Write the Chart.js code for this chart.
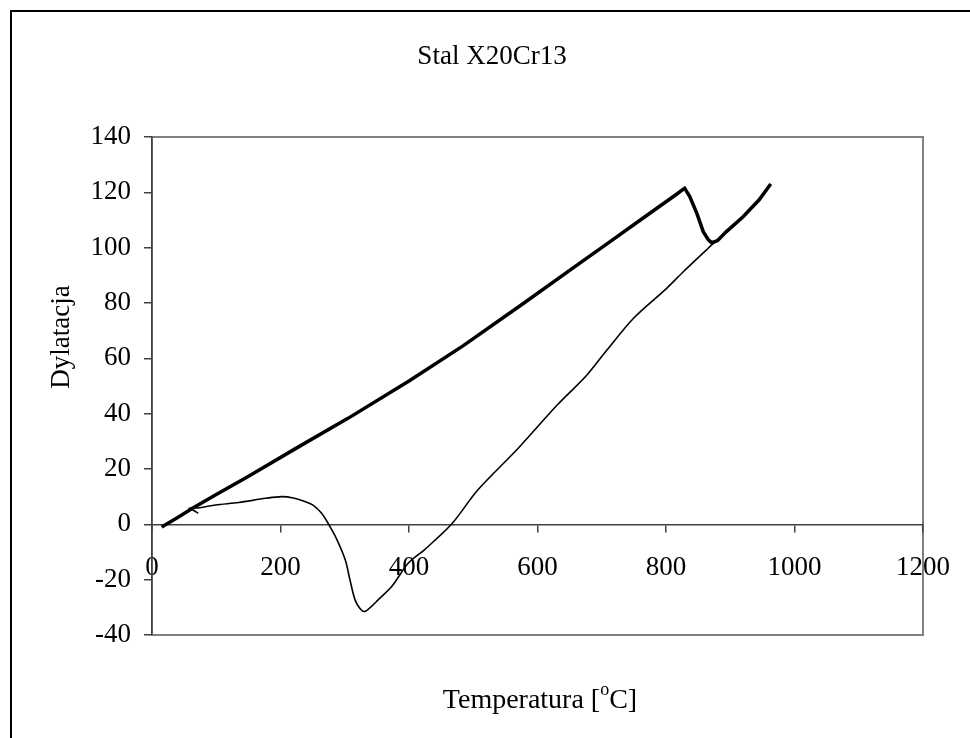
<!DOCTYPE html>
<html lang="pl">
  <head>
    <meta charset="UTF-8" />
    <title>Stal X20Cr13</title>
    <script src="https://cdn.jsdelivr.net/npm/chart.js"></script>
    <style>
      html, body { margin: 0; padding: 0; background: #fff; overflow: hidden; }
      #wrap { position: relative; width: 970px; height: 738px; }
    </style>
  </head>
  <body>
    <div id="wrap">
      <canvas id="chart" width="970" height="738"></canvas>
    </div>

    <script>
      // dane
      const chartTitle = "Stal X20Cr13";
      const xTitle = "Temperatura [";
      const yTitle = "Dylatacja";
      const xTicks = [0, 200, 400, 600, 800, 1000, 1200];
      const yTicks = [-40, -20, 0, 20, 40, 60, 80, 100, 120, 140];

      // nagrzewanie
      const heatT = [15, 40, 63, 100, 151, 228, 305, 400, 484, 579, 662, 713, 765, 817, 829, 837, 848, 858, 866, 871, 880, 894, 920, 945, 963];
      const heatD = [-1, 2.5, 5.8, 10.8, 17.5, 28, 38.3, 51.8, 64.5, 80, 93.8, 102.2, 110.8, 119.4, 121.5, 118.5, 112.4, 105.8, 102.8, 101.8, 102.5, 105.8, 111.2, 117.3, 123];

      // chłodzenie
      const coolT = [963, 945, 920, 894, 871, 863, 827, 801, 749.5, 708, 677, 631, 570, 507, 466, 424, 399, 373, 352, 340, 331, 324, 316, 308, 301, 288, 277, 264, 250, 239, 220, 202, 177, 135, 99, 74, 58, 65, 72];
      const coolD = [123, 117.3, 111, 105.5, 101, 99.2, 91.3, 85.3, 74.5, 63, 54, 43.2, 27.5, 12.4, 0, -9.2, -14, -22.5, -27.3, -30, -31.5, -30.5, -27.3, -20, -13, -5.6, -0.8, 4, 7, 8.2, 9.5, 10, 9.4, 7.9, 7, 6, 5.8, 5, 4];

      const toPoints = (xs, ys) => xs.map((x, i) => ({ x: x, y: ys[i] }));

      const FONT = "'Liberation Serif', 'Times New Roman', serif";

      // ramka, obramowanie obszaru wykresu i tytuły
      const decor = {
        id: "decor",
        beforeDraw(chart) {
          const ctx = chart.ctx;
          const a = chart.chartArea;
          ctx.save();
          ctx.fillStyle = "#fff";
          ctx.fillRect(0, 0, chart.width, chart.height);
          ctx.strokeStyle = "#000";
          ctx.lineWidth = 2;
          ctx.strokeRect(11, 11, 1100, 1100);
          ctx.strokeStyle = "#808080";
          ctx.lineWidth = 2;
          ctx.strokeRect(a.left, a.top, a.right - a.left, a.bottom - a.top);
          ctx.restore();
        },
        afterDraw(chart) {
          const ctx = chart.ctx;
          ctx.save();
          ctx.fillStyle = "#000";
          ctx.textBaseline = "middle";
          ctx.textAlign = "center";
          ctx.font = "27px " + FONT;
          ctx.fillText(chartTitle, 492, 57);

          // tytuł osi X z indeksem górnym
          ctx.font = "28px " + FONT;
          const w1 = ctx.measureText(xTitle).width;
          const w3 = ctx.measureText("C]").width;
          ctx.font = "18px " + FONT;
          const w2 = ctx.measureText("o").width;
          let x = 540 - (w1 + w2 + w3) / 2;
          ctx.textAlign = "left";
          ctx.font = "28px " + FONT;
          ctx.fillText(xTitle, x, 701);
          ctx.font = "18px " + FONT;
          ctx.fillText("o", x + w1, 690);
          ctx.font = "28px " + FONT;
          ctx.fillText("C]", x + w1 + w2, 701);

          // tytuł osi Y
          ctx.translate(62, 337);
          ctx.rotate(-Math.PI / 2);
          ctx.textAlign = "center";
          ctx.font = "27px " + FONT;
          ctx.fillText(yTitle, 0, 0);
          ctx.restore();
        },
      };

      new Chart(document.getElementById("chart"), {
        type: "scatter",
        data: {
          datasets: [
            {
              label: "nagrzewanie",
              data: toPoints(heatT, heatD),
              showLine: true,
              borderColor: "#000",
              borderWidth: 3.5,
              pointRadius: 0,
              tension: 0,
            },
            {
              label: "chłodzenie",
              data: toPoints(coolT, coolD),
              showLine: true,
              borderColor: "#000",
              borderWidth: 1.6,
              pointRadius: 0,
              tension: 0.3,
            },
          ],
        },
        options: {
          responsive: false,
          animation: false,
          layout: { padding: { left: 0, top: 137, right: 43, bottom: 103 } },
          plugins: {
            legend: { display: false },
            tooltip: { enabled: false },
            title: { display: false },
          },
          scales: {
            x: {
              type: "linear",
              position: { y: 0 },
              min: xTicks[0],
              max: xTicks[xTicks.length - 1],
              afterBuildTicks: (s) => { s.ticks = xTicks.map((v) => ({ value: v })); },
              afterFit: (s) => { s.height = 0; },
              border: { display: true, color: "#404040", width: 1.5 },
              grid: { drawOnChartArea: false, drawTicks: true, tickLength: 7, color: "#404040", lineWidth: 1.5 },
              ticks: {
                color: "#000",
                font: { family: FONT, size: 27 },
                padding: 20,
                maxRotation: 0,
                autoSkip: false,
                callback: (v) => String(v),
              },
            },
            y: {
              type: "linear",
              position: "left",
              min: yTicks[0],
              max: yTicks[yTicks.length - 1],
              afterBuildTicks: (s) => { s.ticks = yTicks.map((v) => ({ value: v })); },
              afterFit: (s) => { s.width = 152; },
              border: { display: true, color: "#404040", width: 1.5 },
              grid: { drawOnChartArea: false, drawTicks: true, tickLength: 8, color: "#404040", lineWidth: 1.5 },
              ticks: { color: "#000", font: { family: FONT, size: 27 }, padding: 13, callback: (v) => String(v) },
            },
          },
        },
        plugins: [decor],
      });
    </script>
  </body>
</html>
